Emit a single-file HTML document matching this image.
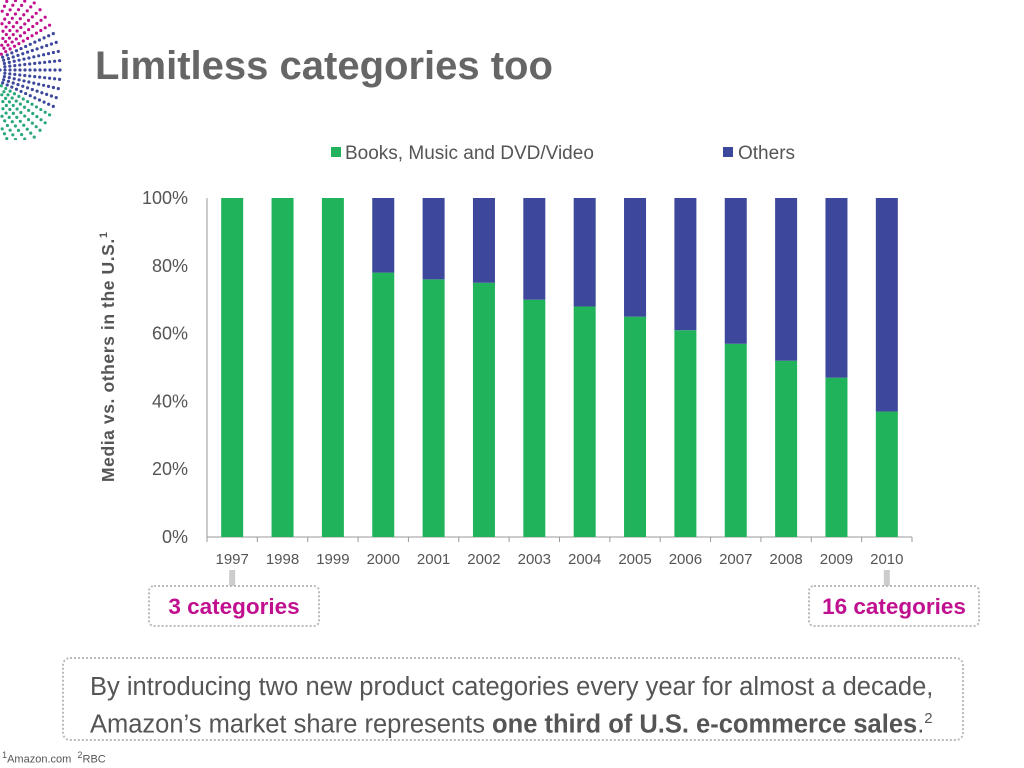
<!DOCTYPE html>
<html><head><meta charset="utf-8"><style>
body{margin:0;width:1024px;height:768px;background:#fff;font-family:"Liberation Sans",sans-serif;position:relative;overflow:hidden}
.abs{position:absolute}
.box{position:absolute;border:2px dotted #bbb;border-radius:6px;color:#c0108f;font-weight:bold;font-size:22.5px;text-align:center;box-sizing:border-box}
</style></head><body>
<svg class="abs" style="left:0;top:0" width="80" height="140" id="logo"></svg>
<div class="abs" style="left:95px;top:44px;font-size:40px;font-weight:bold;color:#666">Limitless categories too</div>
<svg class="abs" id="chart" style="left:0;top:0" width="1024" height="640"></svg>
<div class="box" style="left:148px;top:585px;width:172px;height:42px;line-height:40px">3 categories</div>
<div class="box" style="left:808px;top:585px;width:172px;height:42px;line-height:40px">16 categories</div>
<div class="abs" style="left:62px;top:657px;width:902px;height:84px;border:2px dotted #bbb;border-radius:8px;box-sizing:border-box;padding:13px 0 0 26px;font-size:25.5px;color:#555;line-height:31px;white-space:nowrap">By introducing two new product categories every year for almost a decade,<br>Amazon’s market share represents <b>one third of U.S. e-commerce sales</b>.<sup style="font-size:15px">2</sup></div>
<div class="abs" style="left:2px;top:750px;font-size:11px;color:#555"><sup>1</sup>Amazon.com &nbsp;<sup>2</sup>RBC</div>
<script>
const years=["1997","1998","1999","2000","2001","2002","2003","2004","2005","2006","2007","2008","2009","2010"];
const media=[100,100,100,78,76,75,70,68,65,61,57,52,47,37];
const yTicks=[0,20,40,60,80,100];
const NS="http://www.w3.org/2000/svg";
const svg=document.getElementById('chart');
function mk(t,a,p){const e=document.createElementNS(NS,t);for(const k in a)e.setAttribute(k,a[k]);(p||svg).appendChild(e);return e;}
const x0=207,x1=912,y0=537,y1=198;
const bw=(x1-x0)/years.length;
const xs=i=>x0+bw*(i+0.5);
const ys=v=>y0-(y0-y1)*v/100;
yTicks.forEach(t=>{const e=mk('text',{x:188,y:ys(t)+6,'text-anchor':'end','font-size':18,fill:'#555'});e.textContent=t+'%';

});
mk('line',{x1:x0,y1:y1,x2:x0,y2:y0,stroke:'#999'});
mk('line',{x1:x0,y1:y0,x2:x1,y2:y0,stroke:'#999'});
years.forEach((y,i)=>{
mk('line',{x1:x0+bw*i,y1:y0,x2:x0+bw*i,y2:y0+5,stroke:'#999'});
const g=mk('rect',{x:xs(i)-11,y:ys(media[i]),width:22,height:y0-ys(media[i]),fill:'#21b35b'});


const o=mk('rect',{x:xs(i)-11,y:y1,width:22,height:ys(media[i])-y1,fill:'#3d479b'});


const t=mk('text',{x:xs(i),y:564,'text-anchor':'middle','font-size':15,fill:'#555'});t.textContent=y;


});
mk('line',{x1:x1,y1:y0,x2:x1,y2:y0+5,stroke:'#999'});
mk('rect',{x:xs(0)-3,y:570,width:6,height:16,fill:'#ccc'});
mk('rect',{x:xs(13)-3,y:570,width:6,height:16,fill:'#ccc'});
const yt=mk('text',{transform:'translate(114,482) rotate(-90)','font-size':17.5,'font-weight':'bold',fill:'#555',textLength:250});
yt.innerHTML='Media vs. others in the U.S.<tspan font-size="11" dy="-7">1</tspan>';


mk('rect',{x:331,y:147,width:10,height:10,fill:'#21b35b'});
const l1=mk('text',{x:345,y:159,'font-size':19,fill:'#555'});l1.textContent='Books, Music and DVD/Video';


mk('rect',{x:723,y:147,width:10,height:10,fill:'#3d479b'});
const l2=mk('text',{x:738,y:159,'font-size':19,fill:'#555'});l2.textContent='Others';


const lg=document.getElementById('logo');
for(let r=10;r<=85;r+=5){for(let a=-1.5;a<=1.5;a+=0.1){const cx=-25+r*Math.cos(a),cy=70+r*Math.sin(a)*1.1;if(cx<0||cx>68)continue;
const c=document.createElementNS(NS,'circle');c.setAttribute('cx',cx);c.setAttribute('cy',cy);c.setAttribute('r',1.6);
c.setAttribute('fill',a<-0.4?'#c0108f':(a<0.5?'#3d479b':'#2aa87a'));lg.appendChild(c);}}
</script>
</body></html>
